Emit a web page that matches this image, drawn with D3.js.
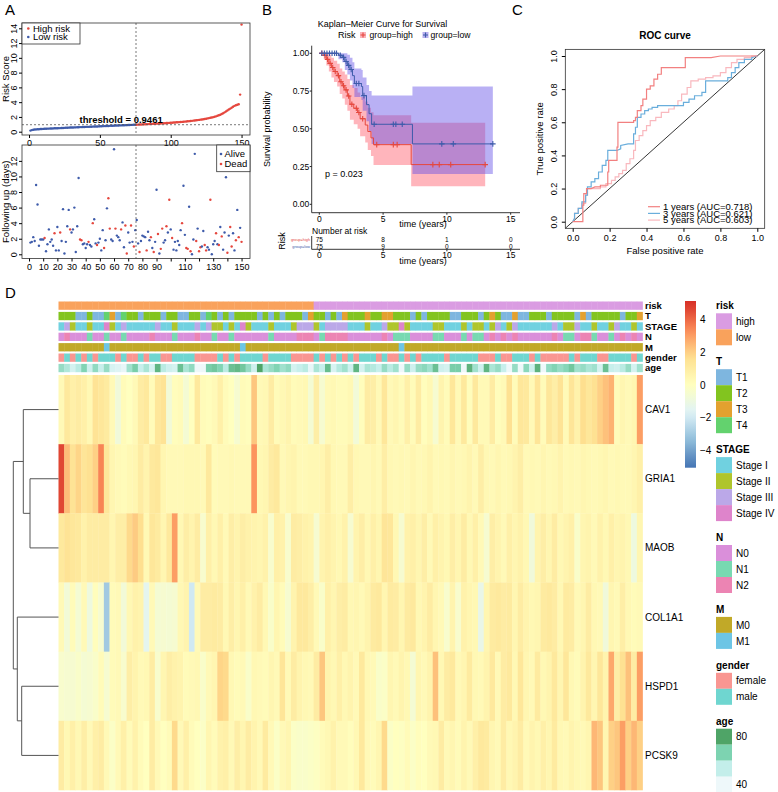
<!DOCTYPE html>
<html><head><meta charset="utf-8">
<script src="https://cdn.jsdelivr.net/npm/d3@7"></script>
<style>body{margin:0;background:#fff}text{font-family:"Liberation Sans",Arial,Helvetica,sans-serif}</style>
</head><body><script>
// ================= DATA =================
// Panel A: risk score (sorted), follow-up time (years), status (1 = dead)
const riskScore = [0.15,0.22,0.26,0.29,0.31,0.33,0.34,0.36,0.37,0.38,
0.39,0.40,0.41,0.42,0.43,0.44,0.45,0.46,0.46,0.47,
0.48,0.49,0.50,0.51,0.52,0.53,0.54,0.55,0.56,0.56,
0.57,0.58,0.59,0.60,0.61,0.62,0.62,0.63,0.64,0.65,
0.66,0.66,0.67,0.68,0.69,0.70,0.71,0.71,0.72,0.73,
0.74,0.75,0.76,0.77,0.77,0.78,0.79,0.80,0.81,0.82,
0.83,0.83,0.84,0.85,0.86,0.87,0.88,0.89,0.89,0.90,
0.91,0.92,0.93,0.94,0.945,
0.95,0.96,0.97,0.98,0.99,1.00,1.01,1.02,1.03,1.04,
1.05,1.06,1.07,1.08,1.09,1.10,1.11,1.12,1.13,1.14,
1.15,1.17,1.18,1.19,1.21,1.22,1.24,1.25,1.27,1.28,
1.30,1.32,1.33,1.35,1.37,1.39,1.41,1.43,1.45,1.47,
1.50,1.52,1.55,1.57,1.60,1.63,1.66,1.69,1.72,1.76,
1.80,1.84,1.88,1.92,1.97,2.02,2.08,2.15,2.22,2.30,
2.40,2.50,2.62,2.75,2.88,3.00,3.12,3.25,3.38,3.50,
3.58,3.65,3.72,5.02,14.5];
const threshold = 0.9461;
const followTime = [1.5,1.6,2.2,1.7,8.9,6.4,1.1,1.9,1.9,1.9,
2.1,0.4,1.3,3.2,1.6,1.9,1.1,2.7,0.5,3.5,
0.5,2.8,1.7,5.8,0.1,1.6,3.6,5.7,3.2,2.8,
3.2,6.0,0.3,3.6,9.8,1.9,1.8,1.3,1.4,0.8,
1.3,1.6,1.2,1.0,4.0,4.5,1.4,1.2,1.5,2.0,
0.5,3.1,0.8,1.8,5.9,7.2,3.3,1.9,1.7,13.5,
3.3,2.4,2.2,1.8,3.2,4.1,0.9,3.7,0.1,2.8,
1.5,3.7,1.6,1.0,3.1,4.4,1.4,0.3,1.7,2.4,
2.3,2.2,0.5,2.9,1.8,2.2,0.8,0.3,1.6,8.3,
2.6,0.1,0.7,3.3,1.5,1.8,3.6,2.8,7.0,3.2,
2.1,0.6,1.6,0.5,1.7,1.2,3.1,4.0,8.8,2.5,
0.8,0.7,6.1,0.4,0.0,1.9,12.9,1.7,3.3,0.4,
0.9,1.0,3.0,1.2,0.5,0.9,0.6,7.0,0.0,1.3,
1.7,2.7,1.3,1.2,3.5,2.3,0.6,2.8,9.9,0.2,
2.4,3.5,1.0,2.7,0.5,1.8,5.7,2.2,3.4,1.6];
const followStatus = [0,0,0,0,0,0,0,0,0,0,
1,0,0,0,0,0,0,1,0,0,
0,1,0,0,0,0,0,0,1,0,
0,0,0,0,0,1,1,0,0,0,
0,1,0,0,1,0,0,1,0,0,
0,0,1,0,0,1,1,0,0,0,
1,0,0,0,1,0,0,1,1,0,
0,1,0,1,0,0,0,1,0,0,
0,0,1,0,0,1,0,1,0,0,
1,0,1,1,0,0,1,0,1,0,
1,0,0,0,0,0,0,1,0,0,
1,1,0,1,0,0,0,1,0,1,
1,0,0,1,1,0,0,1,0,0,
0,1,0,1,0,1,0,0,0,1,
0,1,1,0,0,1,0,1,0,1];
const axisA2Labels = [0,10,20,30,40,50,60,70,80,90,110,130,150];

// Panel B: Kaplan-Meier steps [time, survival, lower, upper]
const kmHigh = [[0,1,1,1],[0.35,0.986,0.96,1],[0.55,0.96,0.92,1],[0.75,0.933,0.88,0.99],
[0.95,0.906,0.84,0.97],[1.15,0.879,0.81,0.95],[1.4,0.852,0.78,0.93],[1.6,0.812,0.73,0.90],
[1.8,0.785,0.70,0.88],[2.0,0.758,0.66,0.86],[2.2,0.717,0.62,0.83],[2.4,0.663,0.56,0.79],
[2.7,0.636,0.53,0.77],[3.0,0.608,0.50,0.74],[3.2,0.567,0.45,0.71],[3.6,0.525,0.41,0.68],
[3.8,0.482,0.36,0.64],[4.05,0.44,0.32,0.61],[4.25,0.395,0.26,0.59],[7.2,0.263,0.12,0.54]];
const kmHighEnd = 13.0;
const kmLow = [[0,1,1,1],[1.5,0.987,0.96,1],[1.8,0.973,0.94,1],[2.0,0.946,0.89,1],
[2.2,0.92,0.86,0.99],[2.4,0.893,0.82,0.97],[2.6,0.852,0.77,0.94],[2.75,0.80,0.71,0.90],
[3.3,0.78,0.69,0.89],[3.4,0.72,0.62,0.84],[3.7,0.66,0.55,0.79],[3.9,0.60,0.48,0.75],
[4.1,0.53,0.40,0.72],[7.3,0.40,0.20,0.78]];
const kmLowEnd = 13.6;
const censorHigh = [0.2,0.45,0.65,0.85,1.05,1.25,1.5,1.7,1.9,2.1,2.3,2.55,2.9,3.1,3.4,4.5,5.8,6.1,8.9,9.4,10.3,13.0];
const censorLow = [0.2,0.4,0.6,0.8,1.0,1.2,1.35,1.65,1.9,2.1,2.3,2.5,2.9,3.1,3.5,4.3,5.8,6.0,6.5,9.6,10.5,13.6];
const riskTimes = [0,5,10,15];
const atRiskHigh = [75,8,1,0];
const atRiskLow = [75,9,0,0];
const pValueText = "p = 0.023";

// Panel C: ROC curves [FPR, TPR]
const roc1 = [[0,0],[0.055,0],[0.055,0.10],[0.06,0.10],[0.06,0.17],[0.075,0.17],[0.075,0.20],[0.10,0.20],[0.12,0.21],[0.15,0.21],[0.15,0.22],[0.19,0.22],[0.19,0.30],[0.195,0.30],[0.195,0.37],[0.24,0.37],[0.24,0.45],[0.245,0.45],[0.245,0.60],[0.33,0.60],[0.33,0.61],[0.34,0.61],[0.34,0.63],[0.35,0.63],[0.35,0.67],[0.37,0.67],[0.37,0.70],[0.38,0.70],[0.38,0.74],[0.40,0.74],[0.40,0.80],[0.42,0.80],[0.42,0.82],[0.44,0.82],[0.44,0.86],[0.46,0.86],[0.46,0.89],[0.48,0.89],[0.48,0.93],[0.61,0.93],[0.61,0.99],[0.75,0.99],[0.80,1.0],[1,1]];
const roc3 = [[0,0],[0.01,0.02],[0.01,0.05],[0.03,0.05],[0.03,0.08],[0.05,0.08],[0.05,0.12],[0.07,0.12],[0.07,0.16],[0.08,0.16],[0.08,0.21],[0.10,0.21],[0.10,0.24],[0.12,0.24],[0.12,0.26],[0.14,0.26],[0.14,0.30],[0.16,0.30],[0.16,0.34],[0.18,0.34],[0.18,0.37],[0.19,0.37],[0.19,0.43],[0.24,0.43],[0.26,0.44],[0.26,0.46],[0.30,0.47],[0.33,0.47],[0.33,0.53],[0.34,0.53],[0.34,0.57],[0.35,0.57],[0.35,0.63],[0.37,0.63],[0.37,0.65],[0.39,0.65],[0.39,0.67],[0.41,0.67],[0.41,0.68],[0.43,0.68],[0.43,0.69],[0.46,0.69],[0.46,0.70],[0.60,0.70],[0.60,0.72],[0.63,0.72],[0.63,0.74],[0.66,0.74],[0.66,0.76],[0.70,0.76],[0.70,0.78],[0.72,0.78],[0.72,0.85],[0.84,0.85],[0.84,0.87],[0.86,0.87],[0.86,0.90],[0.88,0.90],[0.88,0.93],[0.90,0.93],[0.90,0.96],[0.93,0.96],[0.93,0.98],[0.97,0.98],[0.97,0.99],[1,1]];
const roc5 = [[0,0],[0.01,0.02],[0.01,0.05],[0.03,0.05],[0.03,0.08],[0.05,0.08],[0.05,0.11],[0.07,0.11],[0.07,0.16],[0.08,0.16],[0.08,0.20],[0.15,0.20],[0.15,0.21],[0.18,0.21],[0.18,0.23],[0.21,0.23],[0.21,0.25],[0.23,0.25],[0.23,0.27],[0.25,0.27],[0.25,0.29],[0.27,0.29],[0.27,0.31],[0.29,0.31],[0.29,0.35],[0.31,0.35],[0.31,0.38],[0.33,0.38],[0.33,0.43],[0.34,0.43],[0.34,0.49],[0.36,0.49],[0.36,0.52],[0.38,0.52],[0.38,0.55],[0.40,0.55],[0.40,0.58],[0.42,0.58],[0.42,0.61],[0.45,0.61],[0.45,0.63],[0.48,0.63],[0.48,0.66],[0.52,0.66],[0.52,0.68],[0.55,0.68],[0.55,0.70],[0.57,0.70],[0.57,0.73],[0.59,0.73],[0.59,0.77],[0.62,0.77],[0.62,0.81],[0.64,0.81],[0.64,0.85],[0.68,0.85],[0.68,0.86],[0.72,0.86],[0.72,0.87],[0.76,0.87],[0.76,0.88],[0.80,0.88],[0.80,0.90],[0.83,0.90],[0.83,0.93],[0.86,0.93],[0.86,0.96],[0.89,0.96],[0.89,0.98],[0.93,0.98],[0.93,0.99],[0.97,0.99],[0.97,1],[1,1]];
const rocLabels = ["1 years (AUC=0.718)","3 years (AUC=0.621)","5 years (AUC=0.603)"];

// Panel D: heatmap
const genes = ["CAV1","GRIA1","MAOB","COL1A1","HSPD1","PCSK9"];
const exprCAV1 = [0.3,1.2,0.8,1.0,0.8,0.4,1.5,1.3,1.1,0.3,
-0.8,0.2,0.0,0.3,1.0,1.2,0.2,1.3,1.5,-0.7,
0.1,0.2,-0.6,0.0,1.2,0.2,0.1,0.3,0.8,0.2,
0.0,-0.5,0.2,0.1,2.2,0.3,0.4,1.0,0.2,0.4,
0.6,0.2,0.3,0.4,-0.6,0.9,-0.5,0.3,0.4,0.2,
0.2,0.4,-0.7,0.1,1.0,0.9,0.3,1.3,0.3,0.5,
0.2,0.8,0.2,1.0,0.1,0.4,-0.5,0.6,0.2,1.3,
0.3,1.2,0.1,1.2,0.3,0.3,1.0,0.1,0.3,1.6,
0.2,1.3,1.2,0.3,1.4,0.2,1.3,0.9,1.5,0.3,
1.4,0.7,1.7,1.3,1.6,2.0,2.3,2.6,0.2,0.5,
0.3,0.5,3.0];
const exprGRIA1 = [4.6,2.4,1.5,1.9,1.4,1.6,2.0,3.5,1.3,0.5,
0.3,0.2,0.4,0.5,1.0,0.6,1.2,1.3,0.5,0.3,
0.3,0.3,0.4,0.4,0.4,0.3,1.2,0.2,0.3,0.3,
0.4,0.3,0.3,0.3,3.2,0.4,0.5,1.0,1.2,0.3,
0.5,0.6,0.3,0.3,0.4,0.4,0.5,0.9,0.4,0.3,
0.3,0.9,0.4,0.3,0.3,0.5,0.3,0.9,0.4,0.3,
0.4,0.3,0.5,0.3,0.4,0.6,0.3,0.4,0.3,0.5,
0.3,0.4,0.6,0.3,0.9,0.4,0.3,0.5,0.3,0.4,
0.6,0.9,0.3,0.4,0.3,0.5,0.3,0.4,0.6,0.3,
0.4,0.3,0.5,0.4,0.3,0.4,0.5,0.3,0.4,0.3,
0.3,0.5,0.8];
const exprMAOB = [1.2,1.5,1.3,1.2,0.7,1.0,1.0,1.0,1.0,0.5,
0.9,0.9,1.8,2.1,1.7,0.4,1.3,1.1,0.5,1.2,
3.0,0.4,0.9,0.6,1.0,-0.4,0.8,0.4,0.8,0.3,
0.9,0.6,0.9,0.7,0.6,0.5,0.7,-0.4,0.8,0.7,
-0.4,1.0,0.9,0.7,0.6,-0.5,0.6,0.8,0.6,0.4,
0.7,-0.5,0.6,0.9,0.4,0.8,0.5,1.4,1.3,0.4,
-0.5,0.7,0.8,0.5,0.9,0.3,0.8,0.6,0.4,0.9,
0.5,1.0,0.4,0.8,0.3,-0.5,0.9,0.6,0.3,0.8,
0.5,0.7,0.4,-0.8,0.6,0.9,0.5,1.0,0.4,0.6,
0.8,-0.3,0.5,0.6,0.3,0.7,0.4,0.8,0.5,0.6,
0.4,-0.9,0.5];
const exprCOL1A1 = [0.3,-0.7,0.2,-0.6,0.3,-0.9,0.1,-0.5,-3.0,0.2,
0.3,-0.7,0.4,0.7,0.6,-1.4,0.3,-0.6,-0.5,-0.6,
-0.5,0.4,0.6,-2.0,0.3,1.0,1.0,1.1,1.0,0.4,
0.9,0.5,0.8,0.3,0.7,1.0,0.4,-0.3,0.5,0.2,
-0.5,0.6,1.2,1.2,0.9,0.3,-0.3,0.8,0.5,0.9,
1.0,0.4,0.5,0.3,0.6,1.1,1.2,0.5,1.1,1.0,
0.5,1.1,1.2,0.4,0.6,1.0,0.5,0.3,-0.4,0.6,
-0.4,0.7,0.5,0.4,-1.2,0.5,1.1,1.2,1.0,1.1,
0.5,1.0,0.6,0.4,0.5,1.1,1.2,1.0,0.4,1.1,
1.0,0.3,0.5,1.0,0.4,0.3,-0.8,0.5,0.3,0.9,
0.4,0.2,0.3];
const exprHSPD1 = [-0.4,-0.5,-0.5,-0.3,-0.6,-0.5,-0.3,0.2,-0.5,0.2,
0.3,-0.4,0.9,0.6,0.3,0.4,1.0,-0.4,0.5,0.9,
0.7,0.6,0.2,0.3,0.4,-0.3,0.3,0.5,1.9,1.8,
0.4,0.2,0.3,-0.3,0.4,0.3,0.2,0.5,0.3,1.4,
0.3,1.0,0.6,0.4,0.3,1.0,2.2,0.6,0.4,0.8,
0.4,0.6,0.3,1.2,0.4,0.3,-0.3,-0.2,0.5,0.3,
0.6,0.4,-0.6,0.5,0.3,0.6,2.3,0.4,1.0,1.2,
0.3,0.5,1.1,0.4,0.3,0.6,1.2,0.3,1.0,1.2,
0.4,1.3,0.5,0.3,1.1,0.4,0.6,1.2,0.5,1.3,
0.4,0.2,0.6,1.2,0.5,1.3,0.6,2.8,0.9,1.6,
2.3,1.0,3.0];
const exprPCSK9 = [1.0,0.4,0.8,0.4,0.9,0.3,0.8,1.0,0.3,-0.2,
0.3,0.8,0.2,0.7,0.2,0.0,1.0,0.3,0.0,0.2,
1.8,0.3,0.8,0.2,0.0,-0.2,0.5,0.2,0.7,0.8,
0.3,0.9,0.5,1.0,0.6,0.3,1.1,0.3,-0.2,0.3,
0.5,-0.2,-0.3,-0.3,-0.2,-0.1,0.2,0.4,0.7,0.3,
0.3,0.1,0.4,1.2,0.3,0.2,0.5,1.8,-0.2,0.0,
-0.1,0.2,-0.2,0.1,0.0,0.3,0.4,1.0,0.3,0.5,
0.2,0.6,0.3,0.8,1.2,1.1,0.5,0.3,1.0,0.4,
0.6,1.0,0.3,0.6,0.4,0.8,0.5,1.1,0.4,0.3,
0.6,0.4,0.3,0.5,2.5,2.2,0.5,2.0,2.2,3.0,
2.0,2.5,2.0];
const exprRows = [exprCAV1,exprGRIA1,exprMAOB,exprCOL1A1,exprHSPD1,exprPCSK9];
// hclust-style merges (negative = leaf, positive = merge) and heights
const dendroMerge = [[-2,-3],[-1,1],[-5,-6],[-4,3],[2,4]];
const dendroHeight = [28.5,35.2,36.8,41.2,45.2];

// annotation tracks
const annRisk = [0,0,0,0,0,0,0,0,0,0, 0,0,0,0,0,0,0,0,0,0, 0,0,0,0,0,0,0,0,0,0, 0,0,0,0,0,0,0,0,0,0, 0,0,0,0,0,1,1,1,1,1,
1,1,1,1,1,1,1,1,1,1, 1,1,1,1,1,1,1,1,1,1, 1,1,1,1,1,1,1,1,1,1, 1,1,1,1,1,1,1,1,1,1, 1,1,1,1,1,1,1,1,1,1, 1,1,1];
const annT = [2,2,2,1,1,2,1,1,4,3, 1,4,2,2,1,2,2,2,1,2, 2,1,1,2,2,1,4,2,1,2, 1,2,2,2,2,1,2,1,2,1, 2,2,2,1,3,2,2,1,2,1,
3,2,2,2,3,2,2,3,3,2, 2,2,1,2,1,2,2,2,2,1, 1,2,2,2,1,2,3,2,1,1, 3,1,1,2,2,2,1,2,2,2, 2,1,3,1,2,2,2,2,2,1, 2,2,3];
const annStage = [1,3,2,1,1,2,1,1,4,2, 1,3,1,1,1,1,1,3,1,1, 2,1,1,1,3,1,3,2,2,1, 2,1,4,2,1,1,1,2,1,1, 1,2,3,3,3,2,1,3,3,3,
3,1,1,1,2,1,1,3,2,2, 4,2,1,1,1,1,2,2,1,1, 1,2,1,2,2,1,2,3,1,2, 3,1,1,1,1,1,1,3,1,2, 2,3,1,1,2,1,1,2,3,1, 1,2,1];
const annN = [0,2,0,0,0,1,0,0,1,0, 0,1,0,0,0,0,2,0,0,0, 1,0,0,0,2,0,0,1,0,0, 1,0,0,0,0,0,0,1,0,0, 0,0,2,2,2,0,1,2,2,2,
2,0,0,0,0,0,0,2,0,1, 1,1,0,0,0,0,1,1,0,0, 0,1,0,1,1,0,2,0,2,0, 2,0,0,0,0,0,0,2,0,1, 1,0,2,2,1,0,0,1,0,2, 0,2,0];
const annM = [0,0,0,0,0,0,0,0,1,0, 0,0,0,0,0,0,0,0,0,0, 0,0,0,0,0,0,0,0,0,0, 0,0,1,0,0,0,0,0,0,0, 0,0,0,0,0,0,0,0,0,0,
0,0,0,0,0,0,0,0,0,0, 1,0,0,0,0,0,0,0,0,0, 0,0,0,0,0,0,0,0,0,0, 0,0,0,0,0,0,0,0,0,0, 0,0,0,0,0,0,0,0,0,0, 0,0,0];
const annGender = ["F","M","F","M","F","M","F","M","M","M", "F","M","F","F","M","F","M","M","F","F", "M","M","M","M","F","F","F","F","M","F", "M","F","M","M","M","M","F","M","M","M", "M","F","F","F","F","M","F","M","F","M",
"F","M","F","M","M","M","F","M","F","F", "M","F","M","F","M","M","M","M","F","M", "M","M","M","M","F","F","F","M","F","F", "M","M","M","F","M","F","F","F","F","F", "M","F","M","M","M","F","F","M","M","M", "M","F","M"];
const annAge = [62,57,48,55,66,50,63,52,62,47, 45,42,60,68,52,58,47,75,55,50, 48,72,58,63,40,40,68,70,66,55, 72,74,70,62,50,80,58,62,66,60, 63,48,52,55,42,58,52,73,47,56,
60,50,75,48,58,56,52,62,55,60, 38,62,50,62,64,60,72,50,48,68, 68,40,76,60,50,75,58,62,52,40, 62,38,64,50,76,38,63,66,62,65, 70,60,62,58,60,48,72,52,50,55, 62,48,60];
const riskNames = ["low","high"], tNames=["","T1","T2","T3","T4"], stageNames=["","Stage I","Stage II","Stage III","Stage IV"], nNames=["N0","N1","N2"], mNames=["M0","M1"];
const colorTicks = [4,2,0,-2,-4];

// ================= STYLE =================
const RED="#E5473E", BLUE="#3E5BAA";
const riskCol = {high:"#DA9CE2", low:"#F9A25C"};
const tCol = {T1:"#7EB6DF",T2:"#82C41F",T3:"#E3A12F",T4:"#63D26E"};
const stageCol = {"Stage I":"#70D1E0","Stage II":"#AFC52C","Stage III":"#BBA8E8","Stage IV":"#DE84CB"};
const nCol = {N0:"#DA8FDA",N1:"#78D9B1",N2:"#EC84B3"};
const mCol = {M0:"#C1A928",M1:"#6DC5E5"};
const gCol = {female:"#F99692",male:"#6FD6D0"};
const ageColor = d3.scaleLinear().domain([40,53.3,66.7,80]).range(["#EEF8FA","#C3EEEA","#7DD3B1","#4FA467"]).clamp(true);
const heatColor = d3.scaleLinear().domain([-5,-3.33,-1.67,0,1.67,3.33,5])
  .range(["#4575B4","#91BFDB","#E0F3F8","#FFFFBF","#FEE090","#FC8D59","#D73027"]).clamp(true);

const svg = d3.select("body").append("svg").attr("width",778).attr("height",792);
function txt(x,y,s,o={}){
  const t=svg.append("text").attr("x",x).attr("y",y).text(s)
    .attr("font-size",o.size||9).attr("text-anchor",o.anchor||"start").attr("fill",o.fill||"#000");
  if(o.bold) t.attr("font-weight","bold");
  if(o.rot) t.attr("transform",`rotate(${o.rot},${x},${y})`);
  return t;
}
function styleAxis(g,size){ g.select(".domain").remove(); g.attr("font-size",size); g.selectAll("text").attr("fill","#000"); g.selectAll("line").attr("stroke","#000"); }
function rotLeftLabels(g,off){ g.selectAll(".tick text").attr("x",null).attr("dy",null).attr("text-anchor","middle").attr("transform",`translate(${off},0) rotate(-90)`); }

// Panel labels
txt(5,15,"A",{size:15}); txt(262,15,"B",{size:15}); txt(512,15,"C",{size:15}); txt(5,298,"D",{size:15});

// ================= PANEL A top =================
const A1={x0:22,x1:250,y0:23,y1:135};
const xA = d3.scaleLinear().domain([-4.96,155.96]).range([A1.x0,A1.x1]);
const yA1 = d3.scaleLinear().domain([0,14]).range([131.7,28.3]);
svg.append("g").selectAll("circle").data(riskScore).join("circle")
  .attr("cx",(d,i)=>xA(i+1)).attr("cy",d=>yA1(d)).attr("r",1.2)
  .attr("fill",d=>d>threshold?RED:BLUE);
const nLowA = riskScore.filter(d=>d<threshold).length;
svg.append("line").attr("x1",A1.x0).attr("x2",A1.x1).attr("y1",yA1(threshold)).attr("y2",yA1(threshold)).attr("stroke","#555").attr("stroke-dasharray","2,2").attr("stroke-width",0.8);
svg.append("line").attr("x1",xA(nLowA+0.5)).attr("x2",xA(nLowA+0.5)).attr("y1",A1.y0).attr("y2",A1.y1).attr("stroke","#555").attr("stroke-dasharray","2,2").attr("stroke-width",0.8);
txt(xA(65),yA1(threshold)-1.8,"threshold = "+threshold,{size:9.5,bold:true,anchor:"middle"});
svg.append("rect").attr("x",A1.x0).attr("y",A1.y0).attr("width",A1.x1-A1.x0).attr("height",A1.y1-A1.y0).attr("fill","none").attr("stroke","#333").attr("stroke-width",0.8);
{const g=svg.append("g").attr("transform",`translate(0,${A1.y1})`).call(d3.axisBottom(xA).tickValues([0,50,100,150]).tickSize(3).tickPadding(2)); styleAxis(g,9);}
{const g=svg.append("g").attr("transform",`translate(${A1.x0},0)`).call(d3.axisLeft(yA1).tickValues(d3.range(0,15,2)).tickSize(3)); styleAxis(g,9); rotLeftLabels(g,-5);}
txt(8.5,79,"Risk Score",{size:9.5,anchor:"middle",rot:-90});
// legend
svg.append("rect").attr("x",A1.x0).attr("y",A1.y0).attr("width",58).attr("height",21).attr("fill","#fff").attr("stroke","#333").attr("stroke-width",0.8);
svg.append("circle").attr("cx",28.3).attr("cy",28.5).attr("r",1.3).attr("fill",RED);
svg.append("circle").attr("cx",28.3).attr("cy",37).attr("r",1.3).attr("fill",BLUE);
txt(33,31.8,"High risk",{size:9.5}); txt(33,40.3,"Low risk",{size:9.5});

// ================= PANEL A bottom =================
const A2={x0:22,x1:250,y0:145,y1:258.5};
const yA2 = d3.scaleLinear().domain([-0.54,14.04]).range([A2.y1,A2.y0]);
svg.append("g").selectAll("circle").data(followTime).join("circle")
  .attr("cx",(d,i)=>xA(i+1)).attr("cy",d=>yA2(d)).attr("r",1.2)
  .attr("fill",(d,i)=>followStatus[i]===1?RED:BLUE);
svg.append("line").attr("x1",xA(nLowA+0.5)).attr("x2",xA(nLowA+0.5)).attr("y1",A2.y0).attr("y2",A2.y1).attr("stroke","#555").attr("stroke-dasharray","2,2").attr("stroke-width",0.8);
svg.append("rect").attr("x",A2.x0).attr("y",A2.y0).attr("width",A2.x1-A2.x0).attr("height",A2.y1-A2.y0).attr("fill","none").attr("stroke","#333").attr("stroke-width",0.8);
{const g=svg.append("g").attr("transform",`translate(0,${A2.y1})`).call(d3.axisBottom(xA).tickValues(d3.range(0,151,10)).tickFormat(d=>axisA2Labels.includes(d)?d:"").tickSize(3).tickPadding(2)); styleAxis(g,9);}
{const g=svg.append("g").attr("transform",`translate(${A2.x0},0)`).call(d3.axisLeft(yA2).tickValues(d3.range(0,13,2)).tickSize(3)); styleAxis(g,9); rotLeftLabels(g,-5);}
txt(8.5,(A2.y0+A2.y1)/2,"Following up (days)",{size:9.5,anchor:"middle",rot:-90});
svg.append("rect").attr("x",216.7).attr("y",A2.y0).attr("width",A2.x1-216.7).attr("height",26.7).attr("fill","#fff").attr("stroke","#333").attr("stroke-width",0.8);
svg.append("circle").attr("cx",221).attr("cy",154).attr("r",1.3).attr("fill",BLUE);
svg.append("circle").attr("cx",221).attr("cy",164).attr("r",1.3).attr("fill",RED);
txt(224.5,157.3,"Alive",{size:9.5}); txt(224.5,167.3,"Dead",{size:9.5});

// ================= PANEL B =================
const xK = d3.scaleLinear().domain([0,15]).range([319.3,510.7]);
const yK = d3.scaleLinear().domain([0,1]).range([204.3,53.3]);
const KX0=311.7, KX1=520, KY0=45.7, KY1=212.7;
txt(382.5,27,"Kaplan\u2013Meier Curve for Survival",{size:9,anchor:"middle"});
txt(338,38,"Risk",{size:9});
function plusMark(x,y,c,s){ svg.append("path").attr("d",`M${x-s},${y}H${x+s}M${x},${y-s}V${y+s}`).attr("stroke",c).attr("stroke-width",1.1); }
svg.append("rect").attr("x",360).attr("y",32).attr("width",6).attr("height",6).attr("fill","#FBB4BA");
plusMark(363,35,RED,2.5);
txt(369.5,38,"group=high",{size:8.6});
svg.append("rect").attr("x",422.5).attr("y",32).attr("width",6).attr("height",6).attr("fill","#B8B0EE");
plusMark(425.5,35,BLUE,2.5);
txt(430.5,38,"group=low",{size:8.6});
const stepArea = d3.area().x(d=>xK(d[0])).y0(d=>yK(d[2])).y1(d=>yK(d[3])).curve(d3.curveStepAfter);
const stepLine = d3.line().x(d=>xK(d[0])).y(d=>yK(d[1])).curve(d3.curveStepAfter);
const hiData = kmHigh.concat([[kmHighEnd].concat(kmHigh[kmHigh.length-1].slice(1))]);
const loData = kmLow.concat([[kmLowEnd].concat(kmLow[kmLow.length-1].slice(1))]);
svg.append("path").attr("d",stepArea(hiData)).attr("fill","#FF6B7A").attr("fill-opacity",0.5);
svg.append("path").attr("d",stepArea(loData)).attr("fill","#6450E6").attr("fill-opacity",0.45);
svg.append("path").attr("d",stepLine(hiData)).attr("fill","none").attr("stroke",RED).attr("stroke-width",1);
svg.append("path").attr("d",stepLine(loData)).attr("fill","none").attr("stroke",BLUE).attr("stroke-width",1);
function survAt(data,t){ const i=d3.bisector(d=>d[0]).right(data,t)-1; return data[Math.max(0,i)][1]; }
censorHigh.forEach(t=>plusMark(xK(t),yK(survAt(kmHigh,t)),RED,2.8));
censorLow.forEach(t=>plusMark(xK(t),yK(survAt(kmLow,t)),BLUE,2.8));
svg.append("path").attr("d",`M${KX0},${KY0}V${KY1}H${KX1}`).attr("fill","none").attr("stroke","#222").attr("stroke-width",0.9);
[0,0.25,0.5,0.75,1].forEach(v=>{ svg.append("line").attr("x1",KX0-2).attr("x2",KX0).attr("y1",yK(v)).attr("y2",yK(v)).attr("stroke","#222");
  txt(309.2,yK(v)+3,v.toFixed(2),{size:8.5,anchor:"end"}); });
riskTimes.forEach(t=>{ svg.append("line").attr("x1",xK(t)).attr("x2",xK(t)).attr("y1",KY1).attr("y2",KY1+2).attr("stroke","#222");
  txt(xK(t),221.5,t,{size:8.5,anchor:"middle"}); });
txt(423,226.5,"time (years)",{size:9,anchor:"middle"});
txt(270,(KY0+KY1)/2,"Survival probability",{size:9,anchor:"middle",rot:-90});
txt(325,177.3,pValueText,{size:9});
// risk table
txt(312,233.7,"Number at risk",{size:8.5});
txt(285,241,"Risk",{size:9,anchor:"middle",rot:-90});
txt(310,241.4,"group=high",{size:3.8,anchor:"end",fill:RED});
txt(310,248,"group=low",{size:3.8,anchor:"end",fill:BLUE});
riskTimes.forEach((t,i)=>{ txt(xK(t),242,atRiskHigh[i],{size:6.5,anchor:"middle"}); txt(xK(t),248.5,atRiskLow[i],{size:6.5,anchor:"middle"}); });
svg.append("path").attr("d",`M${KX0},236V249.3H${KX1}`).attr("fill","none").attr("stroke","#222").attr("stroke-width",0.9);
riskTimes.forEach(t=>{ svg.append("line").attr("x1",xK(t)).attr("x2",xK(t)).attr("y1",249.3).attr("y2",251.3).attr("stroke","#222");
  txt(xK(t),258,t,{size:8.5,anchor:"middle"}); });
txt(423,264,"time (years)",{size:9,anchor:"middle"});

// ================= PANEL C =================
const xR = d3.scaleLinear().domain([0,1]).range([572.7,757.3]);
const yR = d3.scaleLinear().domain([0,1]).range([221.7,56]);
const C = {x0:xR(-0.04),x1:xR(1.04),y0:yR(1.04),y1:yR(-0.04)};
txt((C.x0+C.x1)/2,38.5,"ROC curve",{size:10,bold:true,anchor:"middle"});
svg.append("line").attr("x1",C.x0).attr("y1",C.y1).attr("x2",C.x1).attr("y2",C.y0).attr("stroke","#000").attr("stroke-width",0.8);
const rocLine = d3.line().x(d=>xR(d[0])).y(d=>yR(d[1]));
const rocCols = ["#F28080","#6AAEDC","#F9B8BE"];
[roc5,roc3,roc1].forEach((r,k)=>{ svg.append("path").attr("d",rocLine(r)).attr("fill","none").attr("stroke",rocCols[2-k]).attr("stroke-width",1.2); });
svg.append("rect").attr("x",C.x0).attr("y",C.y0).attr("width",C.x1-C.x0).attr("height",C.y1-C.y0).attr("fill","none").attr("stroke","#333").attr("stroke-width",0.8);
{const g=svg.append("g").attr("transform",`translate(0,${C.y1})`).call(d3.axisBottom(xR).tickValues([0,0.2,0.4,0.6,0.8,1]).tickFormat(d3.format(".1f")).tickSize(3.5).tickPadding(2.5)); styleAxis(g,9);}
{const g=svg.append("g").attr("transform",`translate(${C.x0},0)`).call(d3.axisLeft(yR).tickValues([0,0.2,0.4,0.6,0.8,1]).tickFormat(d3.format(".1f")).tickSize(3.5)); styleAxis(g,9); rotLeftLabels(g,-8.5);}
txt((C.x0+C.x1)/2,253.5,"False positive rate",{size:9.5,anchor:"middle"});
txt(543.5,(C.y0+C.y1)/2,"True positive rate",{size:9.5,anchor:"middle",rot:-90});
rocLabels.forEach((s,i)=>{ const y=206.7+i*6.7;
  svg.append("line").attr("x1",648).attr("x2",660).attr("y1",y).attr("y2",y).attr("stroke",rocCols[i]).attr("stroke-width",1.2);
  txt(663,y+3.2,s,{size:9.5}); });

// ================= PANEL D =================
const nCols = annRisk.length;
const xH = d3.scaleBand().domain(d3.range(nCols)).range([58.5,642.5]);
const bw = xH.bandwidth();
const trackY0 = 301.5, trackStep = 10.4, trackH = 8.3;
const tracks = [
  {name:"risk", col:i=>riskCol[riskNames[annRisk[i]]]},
  {name:"T", col:i=>tCol[tNames[annT[i]]]},
  {name:"STAGE", col:i=>stageCol[stageNames[annStage[i]]]},
  {name:"N", col:i=>nCol[nNames[annN[i]]]},
  {name:"M", col:i=>mCol[mNames[annM[i]]]},
  {name:"gender", col:i=>gCol[annGender[i]==="F"?"female":"male"]},
  {name:"age", col:i=>ageColor(annAge[i])}
];
tracks.forEach((tr,k)=>{
  const y=trackY0+k*trackStep;
  svg.append("g").selectAll("rect").data(d3.range(nCols)).join("rect")
    .attr("x",i=>xH(i)).attr("y",y).attr("width",bw+0.35).attr("height",trackH).attr("fill",i=>tr.col(i));
  txt(645,y+trackH/2+3.3,tr.name,{size:9.5,bold:true});
});
const HY0=375, HY1=790, rowH=(HY1-HY0)/genes.length;
exprRows.forEach((row,r)=>{
  svg.append("g").selectAll("rect").data(row).join("rect")
    .attr("x",(d,i)=>xH(i)).attr("y",HY0+r*rowH).attr("width",bw+0.35).attr("height",rowH+0.3).attr("fill",d=>heatColor(d));
  txt(645,HY0+(r+0.5)*rowH+3.5,genes[r],{size:10});
});
// dendrogram
const hx = d3.scaleLinear().domain([0,d3.max(dendroHeight)]).range([58.5,13.3]);
const nodePos = [];
function pos(ref){ return ref<0 ? {x:hx(0),y:HY0+(-ref-0.5)*rowH} : nodePos[ref-1]; }
dendroMerge.forEach((m,j)=>{
  const a=pos(m[0]), b=pos(m[1]), x=hx(dendroHeight[j]);
  svg.append("path").attr("d",`M${a.x},${a.y}H${x}V${b.y}H${b.x}`).attr("fill","none").attr("stroke","#555").attr("stroke-width",1);
  nodePos.push({x:x,y:(a.y+b.y)/2});
});
// colour bar
const cbY0=301, cbY1=467.7;
const yCB = d3.scaleLinear().domain([-4,4]).range([450.7,319.3]);
const grad = svg.append("defs").append("linearGradient").attr("id","cb").attr("gradientUnits","userSpaceOnUse").attr("x1",0).attr("x2",0).attr("y1",cbY1).attr("y2",cbY0);
d3.range(0,1.0001,0.05).forEach(o=>grad.append("stop").attr("offset",o).attr("stop-color",heatColor(yCB.invert(cbY1-o*(cbY1-cbY0)))));
svg.append("rect").attr("x",685).attr("y",cbY0).attr("width",11).attr("height",cbY1-cbY0).attr("fill","url(#cb)");
colorTicks.forEach(v=>txt(700,yCB(v)+3.6,v<0?"\u2212"+Math.abs(v):String(v),{size:10}));
// annotation legends
const legendGroups = [
  {title:"risk", items:[["high",riskCol.high],["low",riskCol.low]]},
  {title:"T", items:Object.entries(tCol)},
  {title:"STAGE", items:Object.entries(stageCol)},
  {title:"N", items:Object.entries(nCol)},
  {title:"M", items:Object.entries(mCol)},
  {title:"gender", items:Object.entries(gCol)},
  {title:"age", items:[["80",ageColor(80)],["",ageColor(66.7)],["",ageColor(53.3)],["40",ageColor(40)]]}
];
let ly=305.7;
legendGroups.forEach(gr=>{
  txt(716,ly+3.6,gr.title,{size:10,bold:true});
  let iy=ly+7.6;
  gr.items.forEach(([lab,c])=>{
    svg.append("rect").attr("x",716).attr("y",iy).attr("width",16).attr("height",16).attr("fill",c);
    if(lab) txt(736,iy+8+3.6,lab,{size:10});
    iy+=16;
  });
  ly=iy+16.3;
});
</script></body></html>
